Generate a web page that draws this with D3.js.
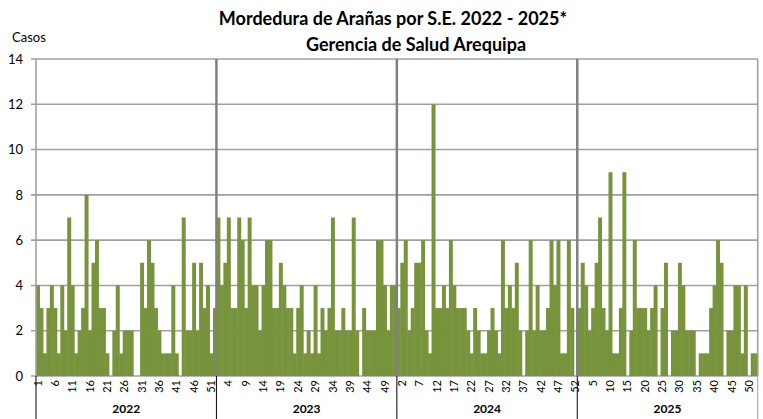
<!DOCTYPE html>
<html>
<head>
<meta charset="utf-8">
<script src="https://cdn.jsdelivr.net/npm/d3@7"></script>
<style>
  body { margin: 0; background: #fff; }
  svg { display: block; }
  text { font-family: Lato, "Open Sans", sans-serif; fill: #000; }
</style>
</head>
<body>
<div id="chart"></div>
<script>
// weekly cases (S.E. 1..52)
var years = ["2022", "2023", "2024", "2025"];
var casos2022 = [4,3,1,3,4,3,1,4,2,7, 4,1,2,3,8,2,5,6,3,3, 1,0,2,4,1,2,2,2,0,0, 5,3,6,5,3,2,1,1,1,4, 1,0,7,2,2,5,2,5,3,4, 1,3];
var casos2023 = [7,4,5,7,3,3,7,6,3,7, 4,4,2,4,6,6,3,3,5,4, 3,3,1,3,4,1,2,1,4,1, 3,2,3,7,2,2,3,2,2,7, 2,0,3,2,2,2,6,6,4,2, 4,4];
var casos2024 = [3,5,6,2,3,5,5,6,2,1, 12,3,3,4,3,6,4,3,3,3, 2,1,3,2,1,1,2,3,2,1, 6,3,4,3,5,2,0,2,6,2, 4,2,2,3,6,4,6,1,1,6, 3,0];
var casos2025 = [3,5,4,2,3,5,7,3,2,9, 1,1,3,9,0,2,6,3,3,3, 2,3,4,0,3,5,0,2,2,5, 4,2,2,2,0,1,1,1,3,4, 6,5,0,2,2,4,4,1,4,0, 1,1];
var yTicks = [0, 2, 4, 6, 8, 10, 12, 14];

var width = 763, height = 419;
var margin = { left: 36, right: 5.3, top: 59, bottom: 43 };

var series = [casos2022, casos2023, casos2024, casos2025];
var rows = [];
years.forEach(function (yr, i) {
  series[i].forEach(function (v, j) {
    rows.push({ key: yr + "-" + (j + 1), year: yr, week: j + 1, value: v });
  });
});

var svg = d3.select("#chart").append("svg")
  .attr("width", width)
  .attr("height", height);

var x = d3.scaleBand()
  .domain(rows.map(function (d) { return d.key; }))
  .range([margin.left, width - margin.right])
  .paddingInner(0)
  .paddingOuter(0);

var y = d3.scaleLinear()
  .domain([0, 14])
  .range([height - margin.bottom, margin.top]);

var x0 = margin.left, x1 = width - margin.right;

// Titles
svg.append("text")
  .attr("x", 393).attr("y", 25)
  .attr("text-anchor", "middle")
  .style("font-size", "18px").style("font-weight", "bold")
  .text("Mordedura de Arañas por S.E. 2022 - 2025*");
svg.append("text")
  .attr("x", 416).attr("y", 51)
  .attr("text-anchor", "middle")
  .style("font-size", "18px").style("font-weight", "bold")
  .text("Gerencia de Salud Arequipa");
svg.append("text")
  .attr("x", 12).attr("y", 42)
  .style("font-size", "13px")
  .text("Casos");

// horizontal gridlines
svg.append("g")
  .selectAll("line")
  .data(yTicks)
  .enter()
  .append("line")
  .attr("x1", x0 - 5).attr("x2", x1)
  .attr("y1", function (d) { return y(d); })
  .attr("y2", function (d) { return y(d); })
  .style("stroke", "#a0a0a0")
  .style("stroke-width", "1.6px");

// bars (slightly widened so neighbours join without seams)
svg.append("g")
  .selectAll("rect")
  .data(rows)
  .enter()
  .append("rect")
  .attr("x", function (d) { return x(d.key); })
  .attr("width", x.bandwidth() + 0.5)
  .attr("y", function (d) { return y(d.value); })
  .attr("height", function (d) { return y(0) - y(d.value); })
  .style("fill", "#77933c");

// y axis labels
var yAxis = d3.axisLeft(y).tickValues(yTicks).tickSize(0).tickPadding(13);
var gy = svg.append("g").attr("transform", "translate(" + x0 + ",0)").call(yAxis);
gy.select(".domain").remove();
gy.selectAll("text").style("font-size", "13px").style("font-family", "Lato, sans-serif");

// left axis line and right border
svg.append("line")
  .attr("x1", x0).attr("x2", x0).attr("y1", y(14)).attr("y2", y(0))
  .style("stroke", "#a0a0a0").style("stroke-width", "1.6px");
svg.append("line")
  .attr("x1", x1).attr("x2", x1).attr("y1", y(14)).attr("y2", y(0))
  .style("stroke", "#a0a0a0").style("stroke-width", "1.6px");

// year separators inside the plot
var firstKeys = years.map(function (yr) { return yr + "-1"; });
svg.append("g")
  .selectAll("line")
  .data(firstKeys.slice(1))
  .enter()
  .append("line")
  .attr("x1", function (d) { return x(d); })
  .attr("x2", function (d) { return x(d); })
  .attr("y1", y(14)).attr("y2", y(0))
  .style("stroke", "#808080")
  .style("stroke-width", "2.5px");

// x axis: week labels every 5 bars
var tickKeys = rows.filter(function (d, i) { return i % 5 === 0; }).map(function (d) { return d.key; });
var xAxis = d3.axisBottom(x)
  .tickValues(tickKeys)
  .tickSize(0)
  .tickFormat(function (k) { return k.split("-")[1]; });
var gx = svg.append("g").attr("transform", "translate(0," + y(0) + ")").call(xAxis);
gx.select(".domain").remove();
gx.selectAll("text")
  .style("font-size", "11px")
  .style("font-family", "Lato, sans-serif")
  .attr("text-anchor", "end")
  .attr("transform", "rotate(-90)")
  .attr("x", -4)
  .attr("y", 0)
  .attr("dy", "0.35em");

// group boundaries below the axis
var bounds = firstKeys.map(function (k) { return x(k); }).concat([x1]);
svg.append("g")
  .selectAll("line")
  .data(bounds)
  .enter()
  .append("line")
  .attr("x1", function (d) { return d; })
  .attr("x2", function (d) { return d; })
  .attr("y1", y(0)).attr("y2", height)
  .style("stroke", function (d, i) { return i === bounds.length - 1 ? "#a0a0a0" : "#000"; })
  .style("stroke-width", "1px");

// year labels
svg.append("g")
  .selectAll("text")
  .data(years)
  .enter()
  .append("text")
  .attr("x", function (d, i) { return (bounds[i] + bounds[i + 1]) / 2; })
  .attr("y", 413)
  .attr("text-anchor", "middle")
  .style("font-size", "12px")
  .style("font-weight", "bold")
  .text(function (d) { return d; });
</script>
</body>
</html>
